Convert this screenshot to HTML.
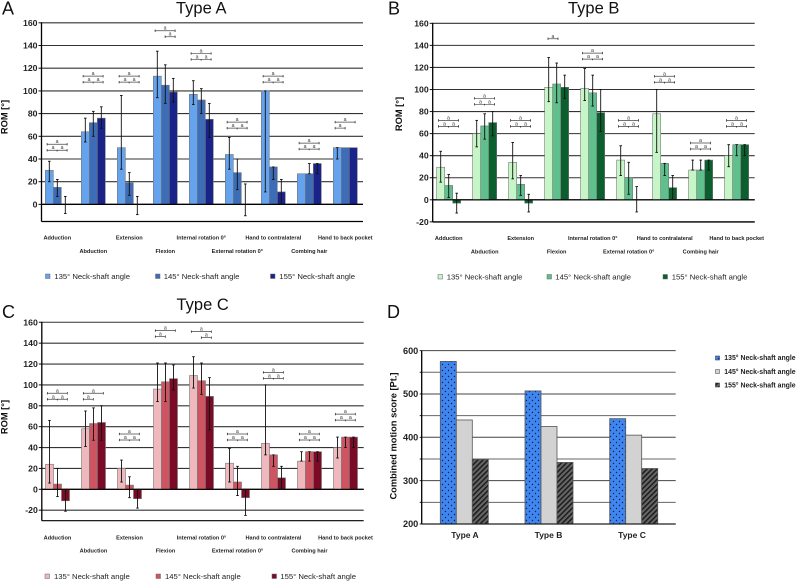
<!DOCTYPE html>
<html lang="en">
<head>
<meta charset="utf-8">
<title>Range of motion by neck-shaft angle</title>
<style>
html,body{margin:0;padding:0;background:#fff;}
svg{display:block;font-family:"Liberation Sans",sans-serif;}
</style>
</head>
<body>
<svg id="fig" xmlns="http://www.w3.org/2000/svg" width="796" height="581" viewBox="0 0 796 581">
<defs>
<pattern id="dots" width="6" height="6" patternUnits="userSpaceOnUse"><rect width="6" height="6" fill="#3f86f0"/><circle cx="1.5" cy="1.5" r="0.7" fill="#0b1f4a"/><circle cx="4.5" cy="4.5" r="0.7" fill="#0b1f4a"/></pattern>
<pattern id="hatch" width="3.6" height="3.6" patternUnits="userSpaceOnUse" patternTransform="rotate(45)"><rect width="3.6" height="3.6" fill="#666"/><rect width="1.5" height="3.6" fill="#1c1c1c"/></pattern>
</defs>
<g font-size="18" fill="#111">
<text x="2" y="14.5">A</text>
<text x="388" y="14.5">B</text>
<text x="2" y="318">C</text>
<text x="387" y="318">D</text>
</g>
<g font-size="16.5" fill="#111">
<text x="176" y="13.5">Type A</text>
<text x="568" y="13.5">Type B</text>
<text x="176.5" y="310">Type C</text>
</g>
<g font-size="9.3" font-weight="bold" fill="#111" text-anchor="middle">
<text transform="translate(7.5,117) rotate(-90)">ROM [°]</text>
<text transform="translate(402,114) rotate(-90)">ROM [°]</text>
<text transform="translate(7.5,417) rotate(-90)">ROM [°]</text>
<text transform="translate(396.5,436) rotate(-90)">Combined motion score [Pt.]</text>
</g>
<g id="plots"></g>
<g font-size="7.7" fill="#222">
<rect x="45.5" y="274" width="4.5" height="4.5" fill="#66a3ee" stroke="#666" stroke-width=".5"/><text x="54.3" y="279">135° Neck-shaft angle</text>
<rect x="155.5" y="274" width="4.5" height="4.5" fill="#3e6db8" stroke="#666" stroke-width=".5"/><text x="163.7" y="279">145° Neck-shaft angle</text>
<rect x="270.5" y="274" width="4.5" height="4.5" fill="#1a2389" stroke="#666" stroke-width=".5"/><text x="279.3" y="279">155° Neck-shaft angle</text>
</g>
<g font-size="7.7" fill="#222">
<rect x="438" y="274.5" width="4.5" height="4.5" fill="#c6f5c8" stroke="#666" stroke-width=".5"/><text x="446.7" y="279.5">135° Neck-shaft angle</text>
<rect x="547" y="274.5" width="4.5" height="4.5" fill="#5fc08e" stroke="#666" stroke-width=".5"/><text x="555.3" y="279.5">145° Neck-shaft angle</text>
<rect x="663" y="274.5" width="4.5" height="4.5" fill="#0b5e2d" stroke="#666" stroke-width=".5"/><text x="671.7" y="279.5">155° Neck-shaft angle</text>
</g>
<g font-size="7.7" fill="#222">
<rect x="45" y="574" width="4.5" height="4.5" fill="#efb8bd" stroke="#666" stroke-width=".5"/><text x="54" y="579">135° Neck-shaft angle</text>
<rect x="156" y="574" width="4.5" height="4.5" fill="#cf5461" stroke="#666" stroke-width=".5"/><text x="165" y="579">145° Neck-shaft angle</text>
<rect x="272" y="574" width="4.5" height="4.5" fill="#7a0a26" stroke="#666" stroke-width=".5"/><text x="280.3" y="579">155° Neck-shaft angle</text>
</g>
<g font-size="6.9" font-weight="bold" fill="#222">
<rect x="715.5" y="356" width="4" height="4" fill="url(#dots)" stroke="#222" stroke-width=".5"/><text x="724.3" y="360.2">135° Neck-shaft angle</text>
<rect x="715.5" y="369.5" width="4" height="4" fill="#d2d2d2" stroke="#444" stroke-width=".5"/><text x="724.3" y="373.8">145° Neck-shaft angle</text>
<rect x="715.5" y="383" width="4" height="4" fill="url(#hatch)" stroke="#222" stroke-width=".5"/><text x="724.3" y="387.5">155° Neck-shaft angle</text>
</g>
</svg>
<script>
const categories = ['Adduction','Abduction','Extension','Flexion','Internal rotation 0°','External rotation 0°','Hand to contralateral','Combing hair','Hand to back pocket'];
const seriesNames = ['135','145','155'];

const aMean135 = [30,64,50,113,97,44,100,27,50];
const aHigh135 = [38,76,96,135,109,59,100,27,50];
const aLow135 = [20,55,31,94,88,31,11,27,40];
const aMean145 = [15,72,19,105,92,28,33,27,50];
const aHigh145 = [22,82,28,123,102,40,33,36,50];
const aLow145 = [7,60,8,89,80,13,22,27,50];
const aMean155 = [0,76,0,99,75,0,11,36,50];
const aHigh155 = [7,86,7,111,89,18,22,36,50];
const aLow155 = [-8,67,-9,90,59,-10,0,27,50];
const aBracket = [53,113,113,153,133,72.5,113,54,72.5];
const aBracketKind = ['full','full','full','right','full','full','full','full','left'];

const bMean135 = [29.5,60,34,102,101,36,78,27,40];
const bHigh135 = [44,72,52,129,119,49,100,36,50];
const bLow135 = [16,48,19,89,90,22,43,27,30];
const bMean145 = [13,67,14,105,97,20,33,27,50];
const bHigh145 = [23,78,22,124,113,34,33,36,50];
const bLow145 = [2,55,4,88,85,5,22,27,40];
const bMean155 = [-3,70,-3,102,79,0,11,36,50];
const bHigh155 = [6,80,5,113,100,12,22,36,50];
const bLow155 = [-12,58,-11,92,62,-11,0,27,40];
const bBracket = [72,92,72,146,133,72,112,51.5,72];
const bBracketKind = ['full','full','full','short','full','full','full','full','full'];

const cMean135 = [24,58,20,96,109,25,44,27,40];
const cHigh135 = [66,75,28,121,127,39,100,36,50];
const cLow135 = [6,41,7,84,97,7,33,27,30];
const cMean145 = [5,63,4,103,104,7,33,36,50];
const cHigh145 = [20,78,12,121,121,22,33,36,50];
const cLow145 = [-7,47,-8,84,91,-6,22,27,40];
const cMean155 = [-11,64,-9,106,89,-8,11,36,50];
const cHigh155 = [0,80,0,119,107,0,22,36,50];
const cLow155 = [-21,47,-18,95,57,-25,0,27,40];
const cBracket = [92,92,53,152,151,53,112,53,72];
const cBracketKind = ['full','left','full','left','right','full','full','full','full'];

const romTicks = [160,140,120,100,80,60,40,20,0,-20];

const scoreCategories = ['Type A','Type B','Type C'];
const score135 = [575,507,443];
const score145 = [440,425,405];
const score155 = [349,342,328];
const scoreGrid = [600,550,500,450,400,350,300,250,200];
const scoreTickLabels = ['600','500','400','300','200'];

const SVGNS = 'http://www.w3.org/2000/svg';
const plots = document.getElementById('plots');
function mk(tag, attrs, parent){
  const e = document.createElementNS(SVGNS, tag);
  for (const k in attrs) e.setAttribute(k, attrs[k]);
  parent.appendChild(e);
  return e;
}
function line(x1,y1,x2,y2,stroke,w,parent){
  return mk('line',{x1:x1,y1:y1,x2:x2,y2:y2,stroke:stroke,'stroke-width':w},parent);
}

function drawRom(cfg){
  const g = mk('g',{},plots);
  
  
  const yOf = v => cfg.y0 - v * cfg.k;
  const xOf = (i, s) => cfg.bar0 + i * 36 + s * 8;

  romTicks.filter(t => t >= cfg.minTick).forEach(t => {
    const y = yOf(t);
    const grid = line(cfg.axis, y, cfg.right, y, t === 0 ? '#000' : '#333', t === 0 ? 1.2 : 1.1, g);
    
    
    const tick = line(cfg.axis - 3, y, cfg.axis, y, '#111', 1, g);
    
    
    const lab = mk('text',{x:cfg.axis - 4,y:y + 3,'text-anchor':'end','font-size':8.7,'font-weight':'bold',fill:'#222'},g);
    lab.textContent = t;
    
    
  });

  cfg.series.forEach((ser, s) => {
    ser.mean.forEach((m, i) => {
      if (m === 0) return;
      const r = mk('rect',{x:xOf(i,s),y:Math.min(yOf(m),yOf(0)),width:8,height:Math.abs(yOf(m)-yOf(0)),fill:cfg.colors[s],stroke:'#777','stroke-width':0.6},g);
      
      
    });
  });

  const zero = line(cfg.axis, yOf(0), cfg.right, yOf(0), '#000', 1.2, g);
  
  

  cfg.series.forEach((ser, s) => {
    ser.mean.forEach((m, i) => {
      const hi = ser.high[i], lo = ser.low[i];
      if (hi === lo) return;
      const cx = xOf(i,s) + 4;
      const eg = mk('g',{},g);
      
      
      line(cx, yOf(hi), cx, yOf(lo), '#111', 0.9, eg);
      line(cx-1.3, yOf(hi), cx+1.3, yOf(hi), '#111', 0.9, eg);
      line(cx-1.3, yOf(lo), cx+1.3, yOf(lo), '#111', 0.9, eg);
    });
  });

  cfg.brackets.forEach((v, i) => {
    const b = mk('g',{fill:'#333','font-size':5.2,'text-anchor':'middle'},g);
    
    
    const xs = cfg.bar0 + i * 36 + 1.8, y = yOf(v), lowY = y + 6;
    const hb = (x1,x2,yy,mid) => {
      line(x1, yy, x2, yy, '#444', 0.7, b);
      line(x1, yy-1.2, x1, yy+1.2, '#222', 0.7, b);
      line(x2, yy-1.2, x2, yy+1.2, '#222', 0.7, b);
      if (mid) line((x1+x2)/2, yy-0.4, (x1+x2)/2, yy+1.2, '#222', 0.7, b);
    };
    const letter = (x,yy) => { mk('text',{x:x,y:yy-1},b).textContent = 'a'; };
    const kind = cfg.kinds[i];
    if (kind === 'short') {
      hb(xs + 1.5, xs + 11.5, y, false);
      letter(xs + 6.5, y);
      return;
    }
    hb(xs, xs + 20, y, false);
    letter(xs + 10, y);
    if (kind === 'full') {
      hb(xs, xs + 20, lowY, true);
      letter(xs + 6, lowY);
      letter(xs + 15, lowY);
    } else if (kind === 'right') {
      hb(xs + 10, xs + 20, lowY, false);
      letter(xs + 15, lowY);
    } else {
      hb(xs, xs + 10, lowY, false);
      letter(xs + 5, lowY);
    }
  });

  const ax = line(cfg.axis, yOf(160) - 0.5, cfg.axis, cfg.bottom, '#000', 1.3, g);
  
  
  const bx = line(cfg.axis, cfg.bottom, cfg.right, cfg.bottom, '#000', 1.2, g);
  
  

  categories.forEach((c, i) => {
    const t = mk('text',{x:cfg.bar0 + i * 36 + 12,y:(i % 2 ? cfg.labelY2 : cfg.labelY1),'text-anchor':'middle','font-size':5.6,'font-weight':'bold',fill:'#222'},g);
    t.textContent = c;
    
    
  });
}

drawRom({id:'type-a',axis:41.5,right:363,y0:204.4,k:1.135,bar0:45.3,bottom:221.5,minTick:0,labelY1:239.5,labelY2:253,
  colors:['#66a3ee','#3e6db8','#1a2389'],brackets:aBracket,kinds:aBracketKind,
  series:[{mean:aMean135,high:aHigh135,low:aLow135},{mean:aMean145,high:aHigh145,low:aLow145},{mean:aMean155,high:aHigh155,low:aLow155}]});
drawRom({id:'type-b',axis:432.7,right:754.7,y0:199.8,k:1.103,bar0:436.7,bottom:222,minTick:-20,labelY1:240,labelY2:253.5,
  colors:['#c6f5c8','#5fc08e','#0b5e2d'],brackets:bBracket,kinds:bBracketKind,
  series:[{mean:bMean135,high:bHigh135,low:bLow135},{mean:bMean145,high:bHigh145,low:bLow145},{mean:bMean155,high:bHigh155,low:bLow155}]});
drawRom({id:'type-c',axis:41.8,right:363.7,y0:489.3,k:1.044,bar0:45.5,bottom:520.7,minTick:-20,labelY1:539.3,labelY2:552.7,
  colors:['#efb8bd','#cf5461','#7a0a26'],brackets:cBracket,kinds:cBracketKind,
  series:[{mean:cMean135,high:cHigh135,low:cLow135},{mean:cMean145,high:cHigh145,low:cLow145},{mean:cMean155,high:cHigh155,low:cLow155}]});

(function drawScore(){
  const g = mk('g',{},plots);
  
  
  const yOf = v => 524 - (v - 200) * 0.4335;
  const xOf = (i, s) => 440.3 + i * 84.7 + s * 16;
  scoreGrid.forEach(v => {
    const gl = line(421.7, yOf(v), 675.7, yOf(v), v % 100 ? '#666' : '#444', 1, g);
    
    
    const tk = line(419.7, yOf(v), 421.7, yOf(v), '#222', 1, g);
    
    
  });
  scoreTickLabels.forEach(t => {
    const lab = mk('text',{x:418.3,y:yOf(Number(t)) + 3.2,'text-anchor':'end','font-size':9.2,'font-weight':'bold',fill:'#222'},g);
    lab.textContent = t;
    
    
  });
  [[score135,'url(#dots)'],[score145,'#d2d2d2'],[score155,'url(#hatch)']].forEach((pair, s) => {
    pair[0].forEach((v, i) => {
      const r = mk('rect',{x:xOf(i,s),y:yOf(v),width:16,height:yOf(200)-yOf(v),fill:pair[1],stroke:'#555','stroke-width':0.8},g);
      
      
    });
  });
  const ax = line(421.7, yOf(600), 421.7, yOf(200), '#000', 1.3, g);
  
  
  const bx = line(421.7, yOf(200), 675.7, yOf(200), '#222', 1.2, g);
  
  
  scoreCategories.forEach((c, i) => {
    const t = mk('text',{x:465 + i * 83.5,y:538,'text-anchor':'middle','font-size':8.5,'font-weight':'bold',fill:'#222'},g);
    t.textContent = c;
    
    
  });
})();
</script>
</body>
</html>
